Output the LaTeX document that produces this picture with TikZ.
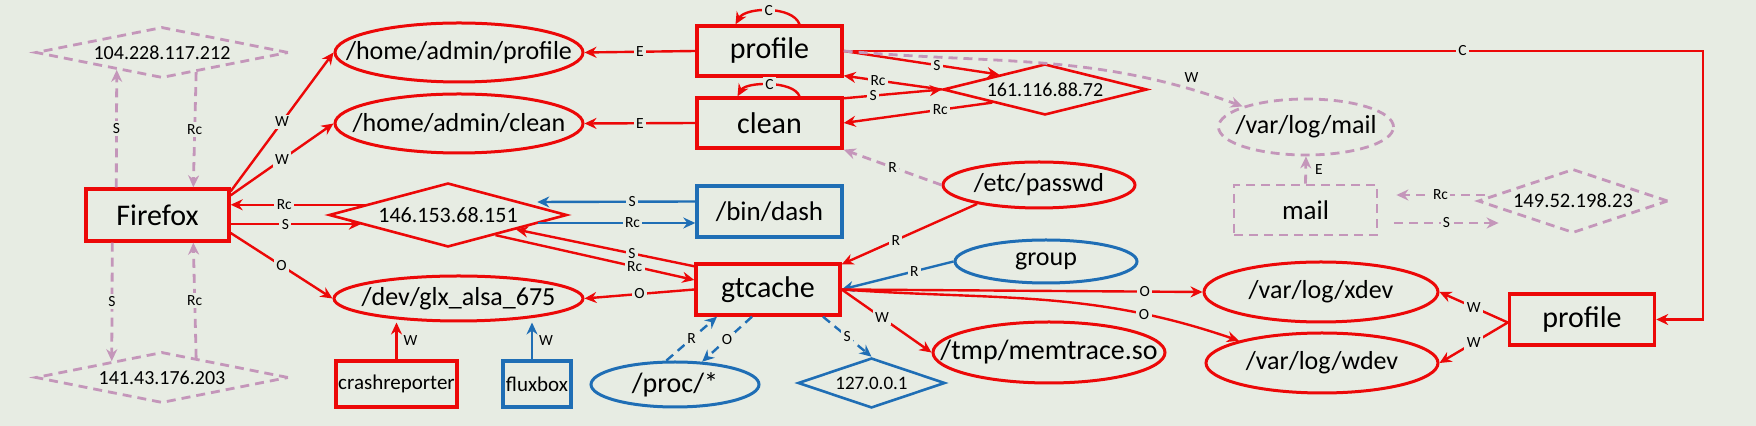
\documentclass[tikz,border=0pt]{standalone}
\usepackage{fontspec}
\setmainfont{Carlito}
\usetikzlibrary{shapes.geometric,arrows.meta,positioning,calc}
\definecolor{PaperGrey}{RGB}{231,236,227}
\definecolor{FlowRed}{RGB}{236,8,8}
\definecolor{FlowBlue}{RGB}{31,110,181}
\definecolor{FlowPink}{RGB}{196,150,186}
\tikzset{
  rproc/.style={draw=FlowRed,rectangle,line width=1.7pt,inner sep=0pt,
               minimum width=72.5pt,minimum height=25.5pt,
               font=\fontsize{15}{18}\selectfont},
  bproc/.style={rproc,draw=FlowBlue},
  pproc/.style={rproc,draw=FlowPink,line width=1.4pt,dash pattern=on 4.5pt off 3pt},
  rfile/.style={draw=FlowRed,ellipse,line width=1.5pt,inner xsep=-14pt,inner ysep=0pt,
               minimum width=124pt,minimum height=29.5pt,
               font=\fontsize{13}{16}\selectfont},
  bfile/.style={rfile,draw=FlowBlue},
  pfile/.style={rfile,draw=FlowPink,line width=1.4pt,dash pattern=on 4.5pt off 3pt},
  rsock/.style={draw=FlowRed,diamond,aspect=4,line width=1.3pt,inner sep=0pt,
               minimum width=102pt,minimum height=25.5pt,
               font=\fontsize{10}{12}\selectfont},
  bsock/.style={rsock,draw=FlowBlue},
  psock/.style={rsock,draw=FlowPink,line width=1.4pt,dash pattern=on 4.5pt off 3pt},
  rarr/.style={-{Stealth[length=6pt,width=5.5pt]},draw=FlowRed,line width=1.2pt},
  barr/.style={rarr,draw=FlowBlue},
  bdarr/.style={barr,dash pattern=on 4.5pt off 3pt},
  parr/.style={rarr,draw=FlowPink,line width=1.4pt,dash pattern=on 4.5pt off 3pt},
  elbl/.style={font=\fontsize{7.75}{9}\selectfont,fill=PaperGrey,text=black,inner sep=1.2pt},
  slbl/.style={font=\fontsize{7.75}{9}\selectfont,text=black,inner sep=1pt},
}

\begin{document}
\begin{tikzpicture}[x=0.5pt,y=-0.5pt]
  \fill[PaperGrey] (0,0) rectangle (1756,426);

  \node[rproc, minimum width=71.5pt, minimum height=26pt] (ff) at (157.5,215) {Firefox};
  \node[rproc, minimum height=25pt] (prof) at (769.5,51) {profile};
  \node[rproc, minimum height=25pt] (cln) at (769.5,123) {clean};
  \node[rproc, minimum width=72pt] (gtc) at (768,289.5) {gtcache};
  \node[bproc, font=\fontsize{13.5}{16}\selectfont] (dash) at (769.5,211.5) {/bin/dash};
  \node[rproc, minimum width=60.5pt, minimum height=23pt, font=\fontsize{10.5}{12}\selectfont] (crash) at (396.5,384) {crashreporter};
  \node[bproc, minimum width=34pt, minimum height=23pt, font=\fontsize{10.5}{12}\selectfont] (flux) at (537,384) {fluxbox};
  \node[pproc, minimum width=71.5pt, minimum height=25pt, font=\fontsize{13.5}{16}\selectfont] (mail) at (1305.5,210) {mail};
  \node[rproc] (prof2) at (1582,319.5) {profile};

  \node[rfile] (hprof) at (459,52.5) {/home/admin/profile};
  \node[rfile] (hcln) at (459,123.5) {/home/admin/clean};
  \node[rfile, minimum width=124.5pt, minimum height=22.5pt] (glx) at (458.5,298.5) {/dev/glx\_alsa\_675};
  \node[bfile, minimum width=84pt, minimum height=22.5pt, font=\fontsize{14}{16}\selectfont] (proc) at (675,384.5) {/proc/*};
  \node[rfile, minimum width=96pt, minimum height=23pt] (passwd) at (1039,185) {/etc/passwd};
  \node[bfile, minimum width=91pt, minimum height=21.5pt] (group) at (1046,261.5) {group};
  \node[rfile, minimum width=116pt, minimum height=30.5pt, font=\fontsize{14}{16}\selectfont] (memtr) at (1049,352.5) {/tmp/memtrace.so};
  \node[rfile, minimum width=117pt, minimum height=30pt] (xdev) at (1321,292) {/var/log/xdev};
  \node[rfile, minimum width=116pt, minimum height=30pt] (wdev) at (1322,363) {/var/log/wdev};
  \node[pfile, minimum width=87.5pt, minimum height=28pt] (vmail) at (1306,127) {/var/log/mail};

  \node[psock, aspect=5, minimum width=126.5pt] (ip104) at (162,52.5) {104.228.117.212};
  \node[psock, aspect=5, minimum width=126.5pt] (ip141) at (162,377.5) {141.43.176.203};
  \node[rsock, aspect=3.7, minimum width=119pt, minimum height=32pt, font=\fontsize{11}{13}\selectfont] (ip146) at (448,215) {146.153.68.151};
  \node[rsock] (ip161) at (1045,89.5) {161.116.88.72};
  \node[bsock, aspect=3, minimum width=73.5pt, minimum height=25pt, font=\fontsize{9.5}{11}\selectfont] (ip127) at (871.5,383) {127.0.0.1};
  \node[psock, aspect=3, minimum width=95pt, minimum height=32pt, font=\fontsize{10.3}{12}\selectfont] (ip149) at (1573,201) {149.52.198.23};

  \coordinate (cturn) at (1703,0);

  \draw[parr] ([xshift=16pt]ff.north west) -- node[elbl]{S} (ip104.201);
  \draw[parr] (ip104.330) -- node[elbl]{Rc} ([xshift=54.5pt]ff.north west);
  \draw[parr] ([xshift=14pt]ff.south west) -- node[elbl]{S} (ip141.162);
  \draw[parr] (ip141.30) -- node[elbl]{Rc} ([xshift=54.5pt]ff.south west);
  \draw[rarr] ([yshift=-2pt]ff.north east) -- node[elbl]{W} (hprof.west);
  \draw[rarr] ([yshift=-4pt]ff.north east) -- node[elbl]{W} (hcln.west);
  \draw[rarr] (ip146.173) -- node[elbl,pos=0.6]{Rc} (ip146.173 -| ff.east);
  \draw[rarr] (ip146.186 -| ff.east) -- node[elbl,pos=0.42]{S} (ip146.186);
  \draw[rarr] ([yshift=-9pt]ff.east) -- node[elbl]{O} (glx.west);

  \draw[rarr] (prof.west) -- node[elbl]{E} (hprof.east);
  \draw[rarr] (cln.west) -- node[elbl]{E} (hcln.east);
  \draw[rarr] ([xshift=15pt]prof.north) to[out=110,in=60,looseness=0.8] node[elbl]{C} ([xshift=-17pt]prof.north);
  \draw[rarr] ([xshift=15pt]cln.north) to[out=110,in=60,looseness=0.7] node[elbl]{C} ([xshift=-16pt]cln.north);
  \draw[rarr] (prof.east) -- node[elbl,pos=0.6]{S} (ip161.162);
  \draw[rarr] (ip161.west) -- node[elbl,pos=0.65]{Rc} ([yshift=1pt]prof.south east);
  \draw[rarr] ([yshift=-1pt]cln.north east) -- node[elbl,pos=0.3]{S} (ip161.west);
  \draw[rarr] (ip161.194) -- node[elbl,pos=0.35]{Rc} (cln.east);
  \draw[parr] (passwd.west) -- node[elbl]{R} (cln.south east);

  \draw[rarr] (passwd.197) -- node[elbl,pos=0.6]{R} ([yshift=-1pt]gtc.north east);
  \draw[barr] (group.west) -- node[elbl,pos=0.35]{R} (gtc.east);
  \draw[rarr] ([yshift=-2pt]gtc.north west) -- node[elbl,pos=0.35]{S} (ip146.348);
  \draw[rarr] (ip146.337) -- node[elbl,pos=0.7]{Rc} ([yshift=4.75pt]gtc.west);
  \draw[barr] ([yshift=5pt]dash.west) -- node[elbl,pos=0.4]{S} ([xshift=-15.5pt,yshift=6.5pt]ip146.east);
  \draw[barr] ([xshift=-15pt,yshift=-4pt]ip146.east) -- node[elbl,pos=0.6]{Rc} ([yshift=-5.75pt]dash.west);
  \draw[rarr] (gtc.west) -- node[elbl]{O} (glx.east);
  \draw[rarr] (crash.north) -- node[slbl,right=2pt]{W} (crash.north |- glx.south);
  \draw[barr] ([xshift=-2.5pt]flux.north) -- node[slbl,right=2pt]{W} ([xshift=-2.5pt]flux.north |- glx.south);
  \draw[bdarr] (proc.110) -- node[elbl]{R} ([xshift=-25.5pt]gtc.south);
  \draw[bdarr] ([xshift=-8pt]gtc.south) -- node[elbl]{O} (proc.40);
  \draw[bdarr] ([xshift=27.5pt]gtc.south) -- node[elbl]{S} (ip127.north);
  \draw[rarr] (gtc.east) -- node[elbl,pos=0.45]{W} (memtr.west);
  \draw[rarr] (gtc.east) -- node[elbl,pos=0.84]{O} (xdev.west);
  \draw[rarr] (gtc.east) to[out=-4,in=161] node[elbl,pos=0.77]{O} (wdev.165);

  \draw[rarr] ([yshift=-1.5pt]prof2.west) -- node[elbl]{W} (xdev.east);
  \draw[rarr] ([yshift=-1.5pt]prof2.west) -- node[elbl]{W} (wdev.east);
  \draw[rarr] (prof.east) -- node[elbl,pos=0.72]{C} (prof.east -| cturn) |- (prof2.east);
  \draw[parr] (prof.east) to[out=-5,in=160] node[slbl,pos=0.88,above=2pt]{W} (vmail.162);
  \draw[parr] (mail.north) -- node[slbl,right=3pt]{E} (vmail.south);
  \draw[parr] ([xshift=4pt,yshift=3pt]ip149.west) -- node[elbl]{Rc} ([xshift=9pt,yshift=7.5pt]mail.east);
  \draw[parr] ([xshift=8pt,yshift=-6.5pt]mail.east) -- node[elbl]{S} ([xshift=11pt,yshift=-11pt]ip149.west);
\end{tikzpicture}
\end{document}
